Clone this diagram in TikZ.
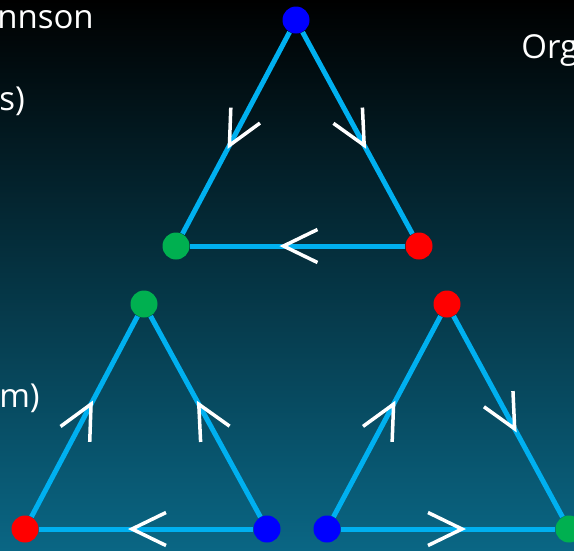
\documentclass[tikz,border=0pt]{standalone}
\usepackage{fontspec}
\setmainfont{Open Sans}
\usepackage{tikz}
\usetikzlibrary{positioning,decorations.markings}

\definecolor{sideblue}{RGB}{0,176,240}
\definecolor{dotgreen}{RGB}{0,176,80}
\definecolor{dotblue}{RGB}{0,0,255}
\definecolor{dotred}{RGB}{255,0,0}
\definecolor{bgmid}{RGB}{3,42,56}
\definecolor{bgbot}{RGB}{10,102,132}

\begin{document}
\begin{tikzpicture}[x=1pt, y=-1pt, semithick]

\tikzset{
    vtx/.style={circle, inner sep=0pt, minimum size=27pt},
    side/.style={
        draw=sideblue, line width=5pt,
        postaction={decorate},
        decoration={markings, mark=at position 0.5 with {
            \draw[white, line width=3.5pt, line cap=butt, miter limit=20]
                (-20pt,16.5pt) -- (14pt,0pt) -- (-20pt,-16.5pt);}}
    },
    lbl/.style={text=white, font=\fontsize{33}{38}\selectfont, inner sep=0pt, anchor=base west}
}

\useasboundingbox (0,0) rectangle (574,550);
\clip (0,0) rectangle (574,550);
\shade[top color=black, middle color=bgmid, bottom color=bgbot] (0,0) rectangle (574,550);

% text cut off at the slide edges
\node[lbl] (Tjo) at (-3,28) {nnson};
\node[lbl] (Tle) at (-1,110) {s)};
\node[lbl] (Tfo) at (-1,407) {m)};
\node[lbl] (Tor) at (521,58) {Org};

% top triangle
\node[vtx, fill=dotblue] (B_1) at (296,20) {};
\node[vtx, fill=dotgreen] (G_1) at (176,246) {};
\node[vtx, fill=dotred] (R_1) at (419,246) {};

% lower left triangle
\node[vtx, fill=dotgreen] (G_2) at (144,304) {};
\node[vtx, fill=dotred] (R_2) at (25,529) {};
\node[vtx, fill=dotblue] (B_2) at (267,529) {};

% lower right triangle
\node[vtx, fill=dotred] (R_3) at (447,304) {};
\node[vtx, fill=dotblue] (B_3) at (327,529) {};
\node[vtx, fill=dotgreen] (G_3) at (569,529) {};

\path
(B_1) edge[side] (G_1)
(B_1) edge[side] (R_1)
(R_1) edge[side] (G_1)
(R_2) edge[side] (G_2)
(B_2) edge[side] (G_2)
(B_2) edge[side] (R_2)
(B_3) edge[side] (R_3)
(R_3) edge[side] (G_3)
(B_3) edge[side] (G_3);

\end{tikzpicture}
\end{document}
